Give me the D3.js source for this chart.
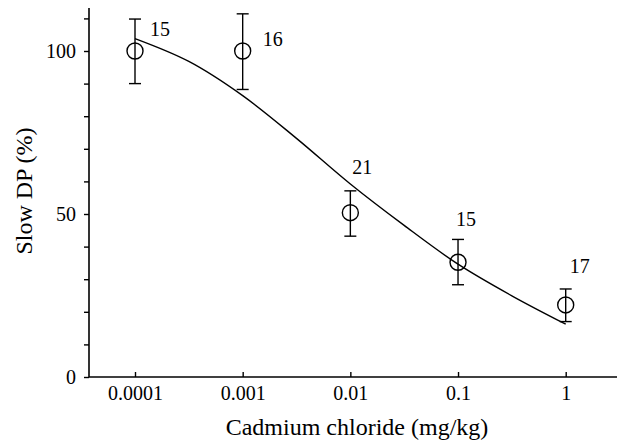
<!DOCTYPE html>
<html>
<head>
<meta charset="utf-8">
<script src="https://cdn.jsdelivr.net/npm/d3@7"></script>
<style>
  html, body { margin: 0; padding: 0; background: #fff; }
  svg { display: block; }
  text { font-family: "Liberation Serif", "Times New Roman", serif; fill: #000; }
</style>
</head>
<body>
<svg id="chart" width="617" height="442"></svg>
<script>
// ---- data ----
const doses      = [0.0001, 0.001, 0.01, 0.1, 1];
const means      = [100, 100, 50.4, 35.2, 22.1];
const errUpper   = [109.8, 111.4, 57.1, 42.2, 27.0];
const errLower   = [90.0, 88.2, 43.2, 28.3, 17.0];
const nLabels    = ["15", "16", "21", "15", "17"];
const curveDoses  = [0.0001, 0.000316, 0.001, 0.00316, 0.01, 0.0316, 0.1, 0.316, 1];
const curveValues = [103.8, 96.8, 86.3, 73.2, 59.2, 46.5, 34.6, 24.9, 16.2];
const xTickValues = [0.0001, 0.001, 0.01, 0.1, 1];
const xTickLabels = ["0.0001", "0.001", "0.01", "0.1", "1"];
const yTickValues = [0, 10, 20, 30, 40, 50, 60, 70, 80, 90, 100, 110];
const yTickLabels = ["0", "", "", "", "", "50", "", "", "", "", "100", ""];
const xTitle = "Cadmium chloride (mg/kg)";
const yTitle = "Slow DP (%)";

// ---- layout / style (not data) ----
const labelOffsets = [[15, -15], [20, -5], [2, -39], [-2, -36], [4, -32]];
const axisX0 = 89, axisX1 = 617, axisY0 = 377, axisTop = 8;

const svg = d3.select("#chart");

const x = d3.scaleLog().domain([0.0001, 1]).range([135, 565.7]);
const y = d3.scaleLinear().domain([0, 100]).range([axisY0, 51]);

// axis lines
svg.append("line").attr("x1", axisX0).attr("x2", axisX1).attr("y1", axisY0).attr("y2", axisY0)
  .attr("stroke", "#000").attr("stroke-width", 1.6);
svg.append("line").attr("x1", axisX0).attr("x2", axisX0).attr("y1", axisY0).attr("y2", axisTop)
  .attr("stroke", "#000").attr("stroke-width", 1.6);

// x axis ticks (pointing up)
const xAxis = d3.axisBottom(x).tickValues(xTickValues)
  .tickFormat((d, i) => xTickLabels[i]).tickSize(-5).tickPadding(9);
const gx = svg.append("g").attr("transform", `translate(0,${axisY0})`).call(xAxis);
gx.select(".domain").remove();
gx.selectAll(".tick line").attr("stroke", "#000").attr("stroke-width", 1.4);
gx.selectAll(".tick text").attr("font-size", 20);

// y axis ticks (pointing left)
const yAxis = d3.axisLeft(y).tickValues(yTickValues)
  .tickFormat((d, i) => yTickLabels[i]).tickSize(5).tickPadding(8);
const gy = svg.append("g").attr("transform", `translate(${axisX0},0)`).call(yAxis);
gy.select(".domain").remove();
gy.selectAll(".tick line").attr("stroke", "#000").attr("stroke-width", 1.4);
gy.selectAll(".tick text").attr("font-size", 20);

// axis titles
svg.append("text").attr("x", 357).attr("y", 435).attr("text-anchor", "middle")
  .attr("font-size", 24).text(xTitle);
svg.append("text").attr("transform", "translate(32,191) rotate(-90)").attr("text-anchor", "middle")
  .attr("font-size", 24).text(yTitle);

// fitted curve
const line = d3.line().x((d, i) => x(curveDoses[i])).y(d => y(d)).curve(d3.curveCatmullRom);
svg.append("path").datum(curveValues).attr("d", line)
  .attr("fill", "none").attr("stroke", "#000").attr("stroke-width", 1.4);

// error bars, markers and n labels
const g = svg.append("g");
doses.forEach((d, i) => {
  const cx = x(d);
  g.append("line").attr("x1", cx).attr("x2", cx).attr("y1", y(errUpper[i])).attr("y2", y(errLower[i]))
    .attr("stroke", "#000").attr("stroke-width", 1.4);
  [errUpper[i], errLower[i]].forEach(v => {
    g.append("line").attr("x1", cx - 6).attr("x2", cx + 6).attr("y1", y(v)).attr("y2", y(v))
      .attr("stroke", "#000").attr("stroke-width", 1.4);
  });
  g.append("circle").attr("cx", cx).attr("cy", y(means[i])).attr("r", 8)
    .attr("fill", "none").attr("stroke", "#000").attr("stroke-width", 1.4);
  g.append("text").attr("x", cx + labelOffsets[i][0]).attr("y", y(means[i]) + labelOffsets[i][1])
    .attr("font-size", 20).text(nLabels[i]);
});
</script>
</body>
</html>
